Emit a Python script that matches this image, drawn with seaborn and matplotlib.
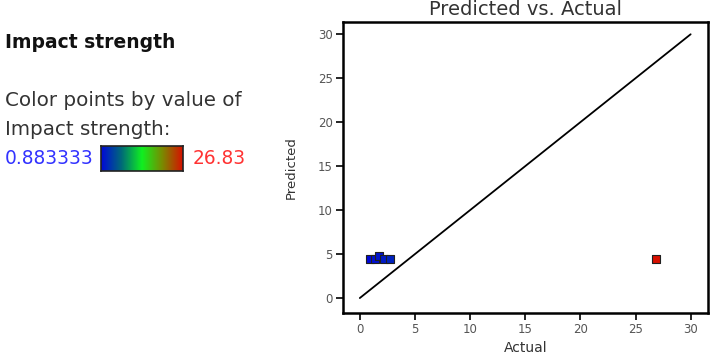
import numpy as np
import pandas as pd
import matplotlib
matplotlib.use("Agg")
import matplotlib.pyplot as plt
from matplotlib.colors import LinearSegmentedColormap, Normalize
import seaborn as sns

# Data
actual = [0.883333, 1.4, 1.7, 2.2, 2.7, 26.83]
predicted = [4.4, 4.45, 4.75, 4.45, 4.4, 4.4]
diag_x = [0, 30]
diag_y = [0, 30]
x_ticks = [0, 5, 10, 15, 20, 25, 30]
y_ticks = [0, 5, 10, 15, 20, 25, 30]
vmin, vmax = 0.883333, 26.83

sns.set_theme(style="white")
plt.rcParams['font.family'] = ['DejaVu Sans']

cmap = LinearSegmentedColormap.from_list(
    "bgr", ["#0008d8", "#006a78", "#10f020", "#7a8a00", "#d81000"])
norm = Normalize(vmin=vmin, vmax=vmax)

fig = plt.figure(figsize=(7.14, 3.6), dpi=100)
ax = fig.add_axes([0.480, 0.1306, 0.512, 0.8084])

ax.plot(diag_x, diag_y, color="black", lw=1.3, zorder=1)

df = pd.DataFrame({"Actual": actual, "Predicted": predicted})
sns.scatterplot(data=df, x="Actual", y="Predicted", hue="Actual",
                palette=cmap, hue_norm=norm, marker="s", s=34,
                edgecolor="#202020", linewidth=0.8, legend=False, ax=ax, zorder=3)

ax.set_xlim(-1.55, 31.6)
ax.set_ylim(-1.7, 31.4)
ax.set_xticks(x_ticks)
ax.set_yticks(y_ticks)
ax.tick_params(axis="both", direction="out", length=5, width=1.2,
               color="black", labelsize=8.5, labelcolor="#555555", pad=2,
               bottom=True, left=True)
for sp in ax.spines.values():
    sp.set_color("black")
    sp.set_linewidth(1.8)
ax.set_xlabel("Actual", fontsize=10, color="#333333", labelpad=4)
ax.set_ylabel("Predicted", fontsize=9.5, color="#333333", labelpad=15)
ax.set_title("Predicted vs. Actual", fontsize=14, color="#333333", pad=5)

# Left-side legend text
fig.text(5/714, 1 - 42/360, "Impact strength", fontsize=13.5, fontweight="bold",
         color="#111111", va="center", ha="left")
fig.text(5/714, 1 - 101/360, "Color points by value of", fontsize=14.3,
         color="#333333", va="center", ha="left")
fig.text(5/714, 1 - 129/360, "Impact strength:", fontsize=14.3,
         color="#333333", va="center", ha="left")
fig.text(5/714, 1 - 158/360, "0.883333", fontsize=13.4, color="#3333ff",
         va="center", ha="left")
fig.text(193/714, 1 - 158/360, "26.83", fontsize=13.4, color="#ff3333",
         va="center", ha="left")

cax = fig.add_axes([101/714, 1 - 171/360, 82/714, 25/360])
grad = np.linspace(0, 1, 256).reshape(1, -1)
cax.imshow(grad, aspect="auto", cmap=cmap)
cax.set_xticks([])
cax.set_yticks([])
for sp in cax.spines.values():
    sp.set_color("#222222")
    sp.set_linewidth(1.2)

fig.savefig("out.png", dpi=100)
